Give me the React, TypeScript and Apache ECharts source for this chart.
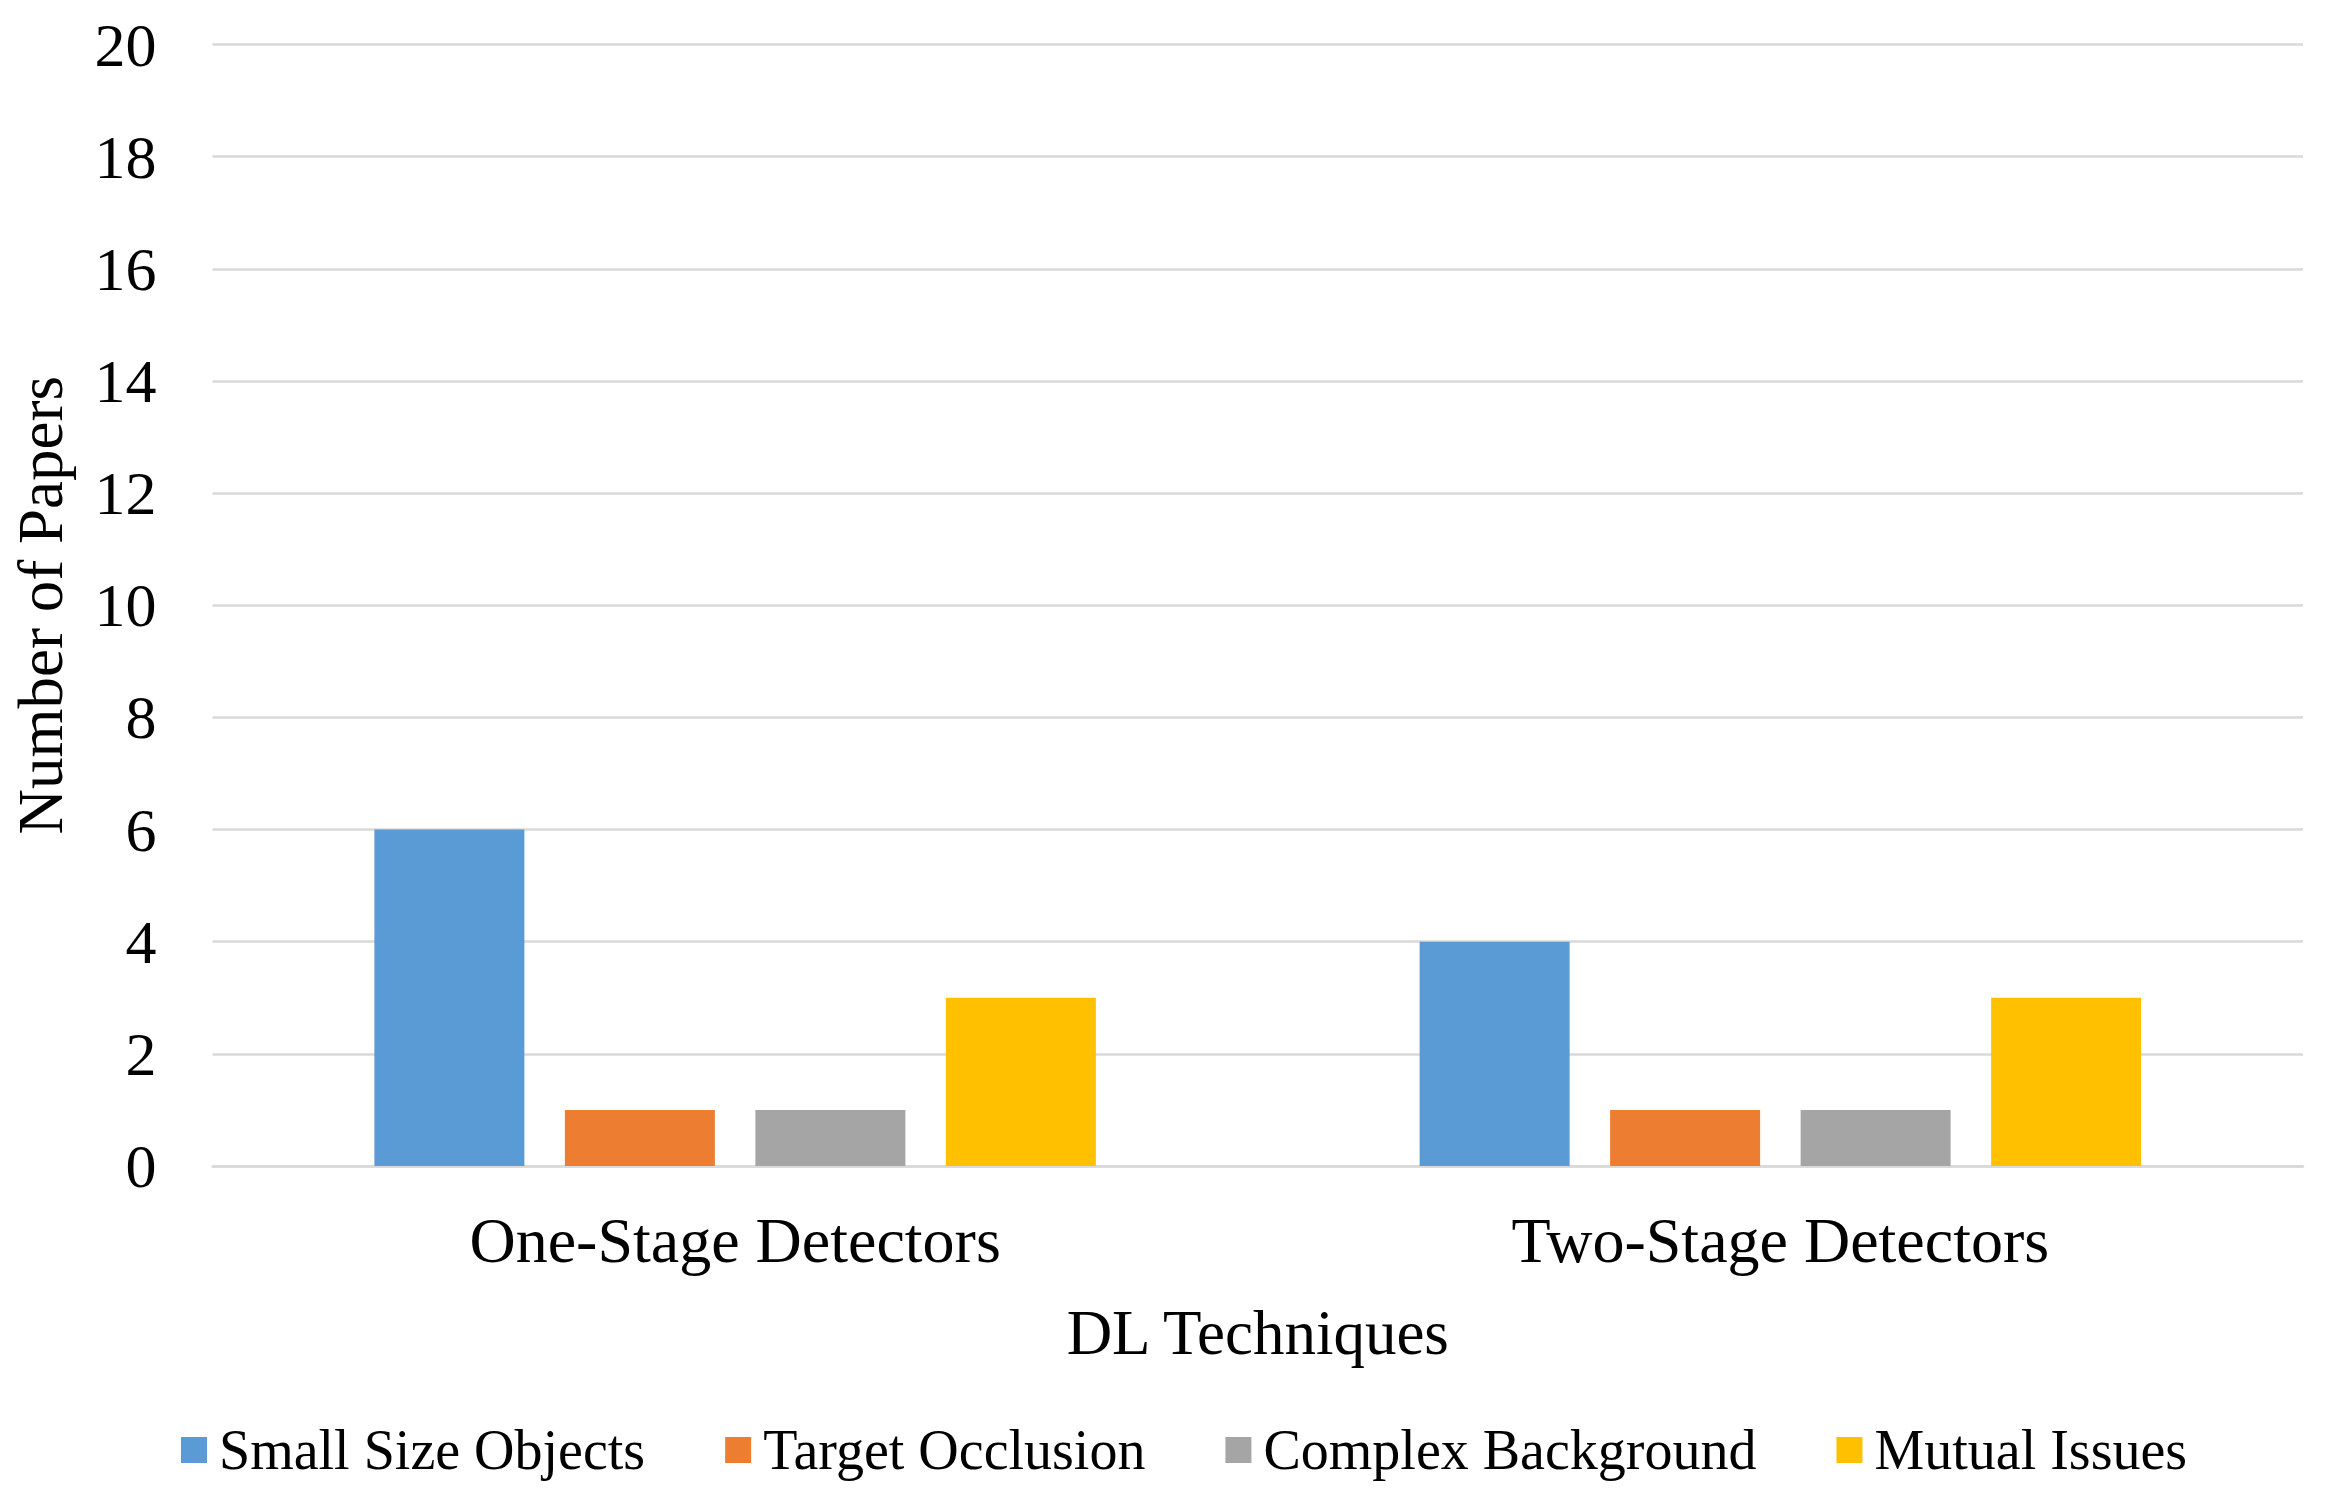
import React, { useEffect, useRef } from "react";
import * as echarts from "echarts";

const categories = ["One-Stage Detectors", "Two-Stage Detectors"];
const seriesNames = ["Small Size Objects", "Target Occlusion", "Complex Background", "Mutual Issues"];
const smallSizeObjects = [6, 4];
const targetOcclusion = [1, 1];
const complexBackground = [1, 1];
const mutualIssues = [3, 3];
const colors = ["#5B9BD5", "#ED7D31", "#A5A5A5", "#FFC000"];

const FONT = "'Liberation Serif', 'Times New Roman', serif";

export default function App() {
  const ref = useRef<HTMLDivElement>(null);
  useEffect(() => {
    const chart = echarts.init(ref.current!, null, { renderer: "svg" });
    const values = [smallSizeObjects, targetOcclusion, complexBackground, mutualIssues];
    chart.setOption({
      animation: false,
      backgroundColor: "#ffffff",
      textStyle: { fontFamily: FONT, color: "#000" },
      grid: { left: 212.5, right: 27, top: 44.6, bottom: 335, containLabel: false },
      legend: {
        left: 176,
        top: 1417,
        itemWidth: 26,
        itemHeight: 26,
        itemGap: 80,
        icon: "rect",
        textStyle: { fontFamily: FONT, fontSize: 56, color: "#000", padding: [0, 0, 0, 7] },
        data: seriesNames,
      },
      xAxis: {
        type: "category",
        data: categories,
        name: "DL Techniques",
        nameLocation: "middle",
        nameGap: 135,
        nameTextStyle: { fontFamily: FONT, fontSize: 63, color: "#000" },
        axisLine: { show: true, lineStyle: { color: "#d9d9d9", width: 2.5 } },
        axisTick: { show: false },
        axisLabel: { fontFamily: FONT, fontSize: 64, color: "#000", margin: 42 },
      },
      yAxis: {
        type: "value",
        min: 0,
        max: 20,
        interval: 2,
        name: "Number of Papers",
        nameLocation: "middle",
        nameGap: 140,
        nameRotate: 90,
        nameTextStyle: { fontFamily: FONT, fontSize: 63, color: "#000" },
        axisLine: { show: false },
        axisTick: { show: false },
        splitLine: { lineStyle: { color: "#d9d9d9", width: 2.5 } },
        axisLabel: { fontFamily: FONT, fontSize: 62, color: "#000", margin: 56 },
      },
      series: seriesNames.map((name, i) => ({
        name,
        type: "bar",
        data: values[i],
        barWidth: 150,
        barGap: "27%",
        itemStyle: { color: colors[i] },
      })),
    });
    return () => chart.dispose();
  }, []);
  return (
    <div
      ref={ref}
      style={{ position: "absolute", left: 0, top: 0, width: 2330, height: 1501 }}
    />
  );
}
